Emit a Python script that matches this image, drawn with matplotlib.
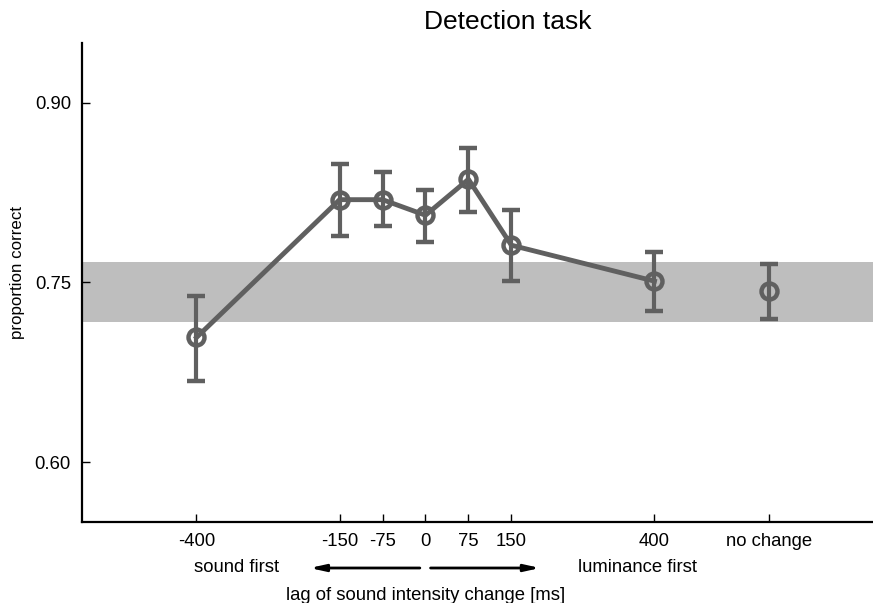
import matplotlib.pyplot as plt
import numpy as np

plt.rcParams['font.family'] = ['Liberation Sans', 'DejaVu Sans']

# lag values (ms); "no change" placed at 600 on the axis
lags = [-400, -150, -75, 0, 75, 150, 400]
means = [0.704, 0.819, 0.819, 0.806, 0.836, 0.781, 0.751]
err_hi = [0.739, 0.849, 0.842, 0.827, 0.862, 0.810, 0.775]
err_lo = [0.668, 0.789, 0.797, 0.784, 0.809, 0.751, 0.726]

nochange_x = 600
nochange_mean = 0.7425
nochange_hi = 0.765
nochange_lo = 0.719

band_lo, band_hi = 0.717, 0.767

tick_pos = [-400, -150, -75, 0, 75, 150, 400, 600]
tick_labels = ['-400', '-150', '-75', '0', '75', '150', '400', 'no change']

col = '#606060'
fs = 13.3

fig = plt.figure(figsize=(8.73, 6.03), dpi=100)
ax = fig.add_axes([82 / 873, 81 / 603, 791 / 873, 479.3 / 603])

ax.axhspan(band_lo, band_hi, color='#bebebe', lw=0, zorder=0)

m = np.array(means)
yerr = [m - np.array(err_lo), np.array(err_hi) - m]
style = dict(color=col, lw=3.5, elinewidth=3.0, capsize=6.8, capthick=3.2,
             marker='o', ms=11.5, mfc='none', mec=col, mew=3.2, zorder=3)
ax.errorbar(lags, means, yerr=yerr, **style)
ax.errorbar([nochange_x], [nochange_mean],
            yerr=[[nochange_mean - nochange_lo], [nochange_hi - nochange_mean]],
            **style)

ax.set_xlim(-600, 781.7)
ax.set_ylim(0.55, 0.95)
ax.set_xticks(tick_pos)
ax.set_xticklabels(tick_labels)
ax.set_yticks([0.60, 0.75, 0.90])
ax.set_yticklabels(['0.60', '0.75', '0.90'])
ax.tick_params(direction='in', length=6, width=1, labelsize=fs, pad=8)
for s in ['top', 'right']:
    ax.spines[s].set_visible(False)
for s in ['left', 'bottom']:
    ax.spines[s].set_linewidth(1.6)

ax.set_ylabel('proportion correct', fontsize=12.2)
ax.yaxis.set_label_coords(-0.072, 0.52)

fig.text(508 / 873, 1 - 22 / 603, 'Detection task', ha='center', va='center',
         fontsize=19)

yc = ('data', 'figure fraction')
ya = 1 - 568 / 603
arrow = dict(arrowstyle='-|>,head_length=0.9,head_width=0.2',
             color='black', lw=2)
ax.annotate('', xy=(-207, ya), xytext=(-5, ya), xycoords=yc, textcoords=yc,
            arrowprops=arrow, annotation_clip=False)
ax.annotate('', xy=(205, ya), xytext=(4, ya), xycoords=yc, textcoords=yc,
            arrowprops=arrow, annotation_clip=False)
ax.annotate('sound first', xy=(-330, ya), xycoords=yc, ha='center',
            va='center', fontsize=fs, annotation_clip=False)
ax.annotate('luminance first', xy=(371, ya), xycoords=yc, ha='center',
            va='center', fontsize=fs, annotation_clip=False)
ax.annotate('lag of sound intensity change [ms]', xy=(0, 1 - 596 / 603),
            xycoords=yc, ha='center', va='center', fontsize=fs,
            annotation_clip=False)

fig.savefig('out.png', dpi=100)
